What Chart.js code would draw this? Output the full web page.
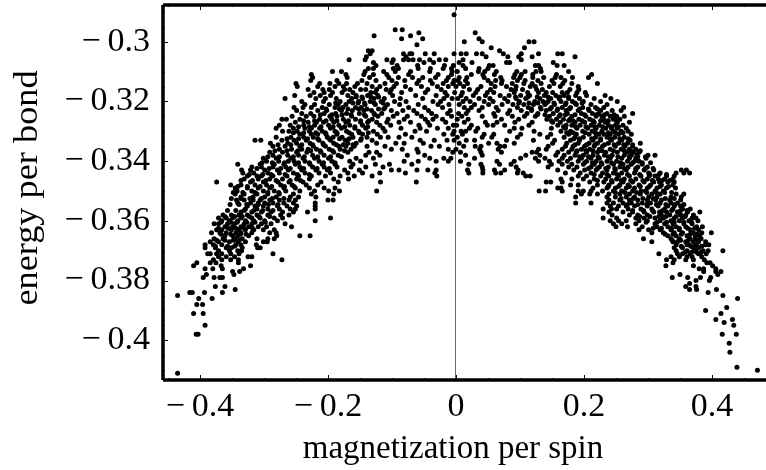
<!DOCTYPE html>
<html>
<head>
<meta charset="utf-8">
<title>energy per bond vs magnetization per spin</title>
<script src="https://cdn.jsdelivr.net/npm/chart.js@4"></script>
<style>
    html, body { margin: 0; padding: 0; background: #fff; }
    #box { width: 766px; height: 470px; position: relative; }
</style>
</head>
<body>
<div id="box"><canvas id="scatter"></canvas></div>
<script>
const xTicks = [-0.4, -0.2, 0, 0.2, 0.4];
const xTickLabels = ['\u2212\u20090.4', '\u2212\u20090.2', '0', '0.2', '0.4'];
const yTicks = [-0.3, -0.32, -0.34, -0.36, -0.38, -0.4];
const yTickLabels = ['\u2212\u20090.3', '\u2212\u20090.32', '\u2212\u20090.34', '\u2212\u20090.36', '\u2212\u20090.38', '\u2212\u20090.4'];
const xTitle = 'magnetization per spin';
const yTitle = 'energy per bond';

const energyLevels = [
    -.291, -.296, -.297, -.298, -.299, -.300, -.301, -.302, -.303, -.304,
    -.305, -.306, -.307, -.308, -.309, -.310, -.311, -.312, -.313, -.314,
    -.315, -.316, -.317, -.318, -.319, -.320, -.321, -.322, -.323, -.324,
    -.325, -.326, -.327, -.328, -.329, -.330, -.331, -.332, -.333, -.334,
    -.335, -.336, -.337, -.338, -.339, -.340, -.341, -.342, -.343, -.344,
    -.345, -.346, -.347, -.348, -.349, -.350, -.351, -.352, -.353, -.354,
    -.355, -.356, -.357, -.358, -.359, -.360, -.361, -.362, -.363, -.364,
    -.365, -.366, -.367, -.368, -.369, -.370, -.371, -.372, -.373, -.374,
    -.375, -.376, -.377, -.378, -.379, -.380, -.381, -.382, -.383, -.384,
    -.385, -.386, -.388, -.389, -.390, -.391, -.393, -.394, -.395, -.398,
    -.401, -.404, -.409, -.410, -.411
];

const magnetizationByLevel = [
    [-.003],
    [-.084, -.095],
    [.030, -.058],
    [-.128, -.071],
    [-.085, -.052, .036],
    [.041, .013, .114, .122],
    [-.061],
    [.055, .107],
    [-.131, .068, -.137],
    [-.134, -.082, -.069, -.072, -.048, -.034, -.003, .008, .016, .032, .041, .074, .102, .129, .159, .166],
    [-.140, -.078, .047, .081, .098, .119, .186],
    [-.167, -.108, -.098, -.082, -.074, -.067, -.057, -.041, -.026, -.016, -.142, .011, .102],
    [-.129, -.100, -.050, -.035, .005, .025, .079, .084, .152],
    [-.092, -.125, -.060, -.018, -.004, .052, .058, .011, .124, .129, .158, .169],
    [-.137, -.129, -.098, -.090, -.059, -.040, -.020, -.007, .036, .050, .015, .132],
    [-.193, -.179, -.142, -.113, -.095, -.071, -.041, -.006, .035, .045, .002, .063, .095, .108, .125, .133, .176],
    [-.226, -.172, -.144, -.129, -.108, -.074, -.028, -.007, .212, .024, .042, .060, .092, .102, .120, .157],
    [-.224, -.170, -.135, -.105, -.090, -.068, -.052, -.032, -.012, .005, .017, .044, .070, .090, .100, .120, .137, .155, .164, .182, .207],
    [-.227, -.186, -.147, -.125, -.100, -.080, -.058, -.040, -.015, -.003, .003, .015, .050, .062, .072, .096, .108, .128, .150, .170],
    [-.250, -.213, -.197, -.183, -.171, -.154, -.139, -.111, -.093, -.061, -.037, -.020, -.005, .006, .018, .055, .071, .088, .106, .119, .133, .153, .167, .181, .221],
    [-.248, -.216, -.189, -.176, -.158, -.131, -.119, -.097, -.079, -.054, -.029, -.012, .000, .012, .039, .061, .079, .094, .116, .124, .146, .163, .191],
    [-.231, -.208, -.198, -.174, -.166, -.149, -.141, -.124, -.109, -.101, -.071, -.044, -.023, .021, .034, .054, .086, .093, .104, .126, .135, .178, .192],
    [-.222, -.206, -.193, -.178, -.161, -.133, -.126, -.103, -.085, -.048, -.017, -.002, .010, .031, .049, .059, .091, .112, .129, .141, .151, .166, .174, .189, .202],
    [-.252, -.228, -.212, -.196, -.169, -.156, -.138, -.122, -.099, -.063, -.031, -.014, .008, .027, .046, .069, .083, .101, .115, .138, .156, .169, .187, .204, .233],
    [-.267, -.219, -.204, -.187, -.163, -.146, -.128, -.112, -.087, -.052, -.019, -.006, .003, .016, .036, .053, .076, .094, .109, .131, .148, .161, .176, .193, .216, .242],
    [-.241, -.207, -.181, -.167, -.152, -.134, -.117, -.096, -.078, -.036, -.024, .011, .022, .044, .058, .081, .099, .123, .136, .144, .164, .182, .199, .226, .252],
    [-.236, -.221, -.198, -.184, -.172, -.142, -.126, -.107, -.088, -.059, -.028, -.011, .005, .029, .051, .072, .089, .106, .121, .139, .154, .171, .188, .211, .236],
    [-.253, -.239, -.226, -.209, -.189, -.177, -.157, -.148, -.111, -.074, -.049, -.021, .013, .024, .041, .063, .096, .113, .132, .149, .166, .179, .198, .218, .231, .262],
    [-.249, -.216, -.202, -.179, -.162, -.144, -.132, -.101, -.083, -.066, -.043, -.009, .019, .036, .066, .084, .102, .118, .141, .158, .172, .191, .208, .226, .244, .258],
    [-.241, -.227, -.206, -.188, -.171, -.151, -.128, -.116, -.092, -.061, -.038, -.013, .004, .016, .059, .081, .111, .128, .152, .174, .196, .213, .223, .236, .276],
    [-.256, -.234, -.222, -.197, -.186, -.163, -.141, -.122, -.098, -.076, -.054, -.031, -.007, .009, .041, .061, .088, .107, .124, .146, .161, .181, .203, .219, .228, .241, .251, .263],
    [-.272, -.265, -.244, -.213, -.194, -.176, -.157, -.131, -.106, -.081, -.048, -.036, -.021, .002, .019, .071, .098, .142, .157, .168, .178, .192, .209, .231, .246, .256],
    [-.251, -.231, -.218, -.207, -.191, -.172, -.149, -.138, -.124, -.108, -.089, -.071, -.044, -.016, .013, .046, .064, .092, .119, .151, .163, .186, .201, .216, .233, .252, .271],
    [-.276, -.259, -.238, -.221, -.199, -.183, -.166, -.146, -.119, -.102, -.058, -.041, -.004, .001, .024, .049, .058, .076, .114, .159, .172, .181, .194, .211, .224, .238, .249, .261],
    [-.281, -.254, -.236, -.226, -.213, -.196, -.179, -.158, -.141, -.114, -.086, -.056, -.029, -.012, .021, .034, .091, .103, .149, .171, .189, .206, .219, .234, .243, .252, .266],
    [-.271, -.261, -.248, -.229, -.209, -.189, -.171, -.152, -.129, -.111, -.064, -.046, -.003, .008, .015, .031, .084, .122, .164, .179, .198, .213, .228, .246, .258, .269],
    [-.244, -.226, -.216, -.203, -.186, -.163, -.146, -.123, -.079, -.019, -.005, .010, .044, .059, .101, .131, .148, .176, .188, .208, .223, .231, .241, .254, .274],
    [-.281, -.258, -.238, -.223, -.201, -.192, -.178, -.161, -.139, -.118, -.106, -.089, -.069, .002, .041, .056, .096, .143, .169, .186, .199, .218, .236, .248, .263],
    [-.314, -.305, -.272, -.253, -.234, -.214, -.196, -.173, -.149, -.131, -.056, -.034, -.014, -.003, .016, .029, .079, .121, .154, .179, .193, .214, .226, .243, .259, .272],
    [-.290, -.263, -.249, -.228, -.208, -.191, -.169, -.156, -.124, -.094, -.081, -.051, .005, .051, .064, .091, .151, .173, .191, .208, .221, .238, .254, .268, .288],
    [-.286, -.267, -.244, -.223, -.204, -.183, -.172, -.159, -.139, -.111, -.039, -.026, .012, .039, .030, .076, .069, .144, .171, .183, .201, .216, .229, .249, .264, .276],
    [-.276, -.257, -.241, -.231, -.218, -.198, -.181, -.164, -.101, -.084, -.061, -.012, .000, .037, .066, .129, .141, .166, .181, .196, .209, .224, .241, .258, .271, .281],
    [-.291, -.271, -.249, -.233, -.211, -.191, -.169, -.136, -.124, -.059, -.005, .007, .039, .071, .119, .126, .159, .176, .188, .204, .221, .234, .252, .268, .278, .286],
    [-.286, -.263, -.246, -.224, -.206, -.184, -.141, -.119, -.076, -.049, .015, .041, .109, .131, .156, .169, .186, .199, .214, .232, .244, .263, .274, .283, .300, .311],
    [-.301, -.281, -.258, -.239, -.221, -.199, -.156, -.129, -.041, -.019, -.008, .029, .101, .124, .139, .166, .179, .196, .211, .224, .241, .259, .271, .281, .297],
    [-.296, -.277, -.262, -.253, -.236, -.214, -.194, -.166, -.149, -.081, -.059, -.031, -.012, .007, .064, .091, .129, .146, .161, .174, .191, .204, .219, .236, .251, .268, .279, .286],
    [-.341, -.306, -.284, -.269, -.251, -.228, -.209, -.189, -.161, -.126, -.104, -.069, .020, .039, .068, .086, .149, .166, .181, .199, .216, .228, .246, .261, .274, .291],
    [-.319, -.304, -.286, -.266, -.244, -.224, -.206, -.186, -.164, -.141, -.114, .041, .094, .144, .176, .189, .211, .224, .238, .256, .269, .284, .299],
    [-.335, -.321, -.299, -.279, -.262, -.241, -.219, -.201, -.174, -.151, -.101, -.089, -.061, -.044, -.031, .018, .042, .060, .076, .097, .159, .184, .201, .219, .236, .249, .266, .281, .294, .309, .352, .360],
    [-.333, -.316, -.294, -.276, -.254, -.236, -.214, -.196, -.169, -.146, -.119, -.079, -.033, .020, .042, .062, .070, .096, .105, .171, .194, .211, .229, .246, .259, .279, .301, .319, .344, .356, .365],
    [-.326, -.311, -.304, -.286, -.264, -.246, -.226, -.204, -.181, -.159, -.131, -.030, .109, .116, .191, .204, .226, .239, .254, .271, .289, .302, .311, .329, .341],
    [-.331, -.309, -.291, -.271, -.249, -.229, -.191, -.168, .164, .181, .199, .216, .234, .251, .263, .281, .299, .316, .326, .339],
    [-.374, -.321, -.301, -.278, -.261, -.239, -.211, -.184, -.118, -.062, .141, .148, .166, .209, .231, .244, .261, .276, .294, .309, .318, .331, .341],
    [-.352, -.336, -.314, -.296, -.274, -.256, -.234, -.216, .179, .191, .221, .239, .256, .269, .286, .304, .321, .339],
    [-.345, -.326, -.309, -.291, -.269, -.251, -.229, -.206, -.189, .159, .164, .214, .236, .249, .266, .279, .299, .314, .329, .343],
    [-.342, -.319, -.301, -.284, -.266, -.244, -.221, -.199, -.182, -.124, .130, .140, .166, .191, .199, .211, .229, .246, .259, .276, .289, .296, .311, .324],
    [-.345, -.331, -.311, -.294, -.276, -.254, -.226, -.191, .196, .209, .221, .239, .256, .271, .288, .306, .319, .344, .356],
    [-.336, -.317, -.299, -.281, -.259, -.246, -.219, .187, .236, .249, .266, .279, .301, .314, .336, .352],
    [-.343, -.331, -.317, -.306, -.291, -.276, -.261, -.251, -.200, -.192, .239, .256, .271, .284, .299, .312, .321, .334, .351],
    [-.341, -.321, -.309, -.299, -.286, -.269, -.254, -.220, .187, .211, .236, .246, .261, .274, .291, .304, .319, .336, .346],
    [-.326, -.314, -.301, -.279, -.264, -.249, -.220, .241, .254, .266, .279, .299, .316, .331, .341, .351],
    [-.329, -.311, -.294, -.276, -.259, -.251, -.220, .230, .243, .251, .269, .289, .306, .326, .339, .354, .366],
    [-.336, -.319, -.304, -.289, -.271, -.254, -.232, .239, .261, .276, .294, .309, .318, .329, .346, .362, .381],
    [-.364, -.351, -.339, -.326, -.311, -.294, -.274, -.261, .244, .271, .284, .299, .321, .334, .351, .359, .371],
    [-.371, -.359, -.349, -.336, -.319, -.306, -.284, -.271, -.196, .230, .251, .281, .294, .311, .324, .341, .354, .369, .375],
    [-.366, -.354, -.341, -.329, -.316, -.299, -.279, -.220, .241, .254, .266, .286, .299, .319, .336, .349, .364, .378],
    [-.378, -.371, -.357, -.346, -.331, -.319, -.304, -.289, -.267, .246, .259, .281, .311, .326, .339, .356, .369],
    [-.361, -.349, -.336, -.324, -.309, -.296, -.257, .250, .268, .291, .314, .331, .344, .359, .376, .385],
    [-.374, -.366, -.351, -.339, -.329, -.316, -.301, -.284, .286, .301, .319, .336, .349, .366, .379],
    [-.382, -.369, -.359, -.344, -.336, -.319, -.291, -.281, .306, .324, .341, .354, .371, .384, .399],
    [-.361, -.349, -.341, -.324, -.280, -.244, -.228, .331, .344, .361, .374, .381],
    [-.378, -.364, -.346, -.334, -.311, -.294, -.284, .293, .336, .349, .366, .374, .383],
    [-.384, -.371, -.354, -.341, -.329, -.301, -.295, .306, .339, .346, .359, .371, .379, .390],
    [-.392, -.379, -.366, -.344, -.336, -.312, .344, .361, .364, .376, .390, .395],
    [-.392, -.376, -.359, -.351, -.334, -.310, -.306, .341, .354, .371, .379],
    [-.371, -.354, -.341, -.335, .344, .361, .374, .386, .394, .417],
    [-.388, -.384, -.374, -.366, -.352, -.339, -.286, .317, .346, .354, .366, .379, .391],
    [-.371, -.359, -.346, -.325, -.319, .336, .349, .361, .369, .384],
    [-.379, -.366, -.352, -.340, -.272, .329, .341, .359, .371, .388],
    [-.405, -.375, -.384, -.340, .339, .392, .397],
    [-.410, -.367, -.321, .328, .371, .401],
    [-.392, -.380, -.365, -.332, .380, .387, .406],
    [-.349, -.338, .387, .414, .406],
    [-.390, -.347, .350, .409],
    [-.395, -.378, -.369, -.365, .338, .362, .398, .382],
    [.375, .396],
    [.365],
    [-.376, -.361, .359, .375],
    [-.345, .365, .376, .407],
    [-.416, -.412, -.393, -.365, .394],
    [-.435, .417],
    [-.402, -.381, .440],
    [-.405, -.396],
    [.423],
    [.390],
    [-.410, -.395, .414],
    [.406, .432],
    [.419],
    [-.392, .434],
    [-.406, -.403, .416, .438],
    [.427],
    [.428],
    [.439],
    [.471],
    [-.435]
];

// the crowded part of the two wings
const bandEnergyLevels = [
    -.3185, -.3205, -.3225, -.3245, -.3265, -.3285, -.3305, -.3325, -.3345, -.3365,
    -.3385, -.3405, -.3425, -.3445, -.3465, -.3485, -.3505, -.3525, -.3545, -.3565,
    -.3585, -.3605, -.3625, -.3645, -.3665, -.3685, -.3705
];

const bandMagnetizationByLevel = [
    [-.156, -.147, -.133, -.121, .093, .112, .127, .144, .162, .176],
    [-.188, -.161, -.153, -.143, -.128, -.114, .098, .114, .128, .141, .153, .172, .186, .197],
    [-.203, -.182, -.169, -.152, -.139, -.121, -.113, .118, .133, .147, .159, .177, .193, .207, .221],
    [-.212, -.194, -.178, -.164, -.143, -.127, .127, .139, .163, .171, .186, .201, .219, .232, .247],
    [-.238, -.221, -.203, -.186, -.168, -.149, -.136, .149, .176, .183, .197, .214, .226, .238, .251],
    [-.246, -.229, -.211, -.192, -.174, -.158, -.138, .168, .187, .203, .217, .229, .243, .254],
    [-.254, -.238, -.219, -.204, -.186, -.167, -.151, -.137, .173, .183, .202, .218, .238, .249, .261],
    [-.264, -.246, -.232, -.216, -.198, -.182, -.167, -.148, .184, .193, .212, .226, .241, .256, .269],
    [-.278, -.258, -.241, -.224, -.207, -.187, -.176, -.161, .186, .204, .217, .232, .247, .262, .276],
    [-.283, -.264, -.247, -.227, -.212, -.193, -.174, .189, .203, .214, .228, .246, .263, .273, .288],
    [-.294, -.276, -.254, -.237, -.216, -.196, -.179, .193, .207, .222, .238, .253, .271, .284, .296],
    [-.303, -.287, -.268, -.246, -.229, -.207, -.189, .201, .213, .227, .243, .257, .276, .291, .304],
    [-.311, -.292, -.274, -.259, -.238, -.217, -.198, .207, .221, .234, .248, .263, .281, .296, .308],
    [-.323, -.302, -.289, -.267, -.248, -.229, .216, .236, .252, .268, .287, .303, .317, .329],
    [-.336, -.318, -.297, -.281, -.259, -.243, .221, .243, .258, .273, .292, .307, .322, .334],
    [-.341, -.326, -.306, -.288, -.268, -.253, .238, .254, .271, .288, .302, .319, .332],
    [-.348, -.333, -.314, -.294, -.277, .249, .264, .282, .298, .313, .326, .337],
    [-.351, -.336, -.322, -.304, -.287, -.269, .258, .277, .292, .308, .327, .341],
    [-.353, -.339, -.327, -.309, -.293, -.278, .268, .284, .298, .313, .328, .342, .356],
    [-.357, -.344, -.331, -.316, -.302, -.286, .276, .293, .307, .323, .337, .351, .361],
    [-.361, -.346, -.334, -.323, -.308, -.291, .287, .303, .317, .328, .344, .358],
    [-.367, -.352, -.342, -.327, -.314, -.298, .297, .314, .329, .341, .356, .368],
    [-.371, -.356, -.344, -.331, -.318, .308, .321, .337, .349, .362, .373],
    [-.367, -.352, -.337, -.328, .327, .339, .352, .366, .377],
    [-.374, -.361, -.348, -.339, .338, .351, .363, .378],
    [-.376, -.357, -.346, .352, .367, .373, .384],
    [.358, .368, .376, .383]
];

const samples = [];
energyLevels.forEach((energy, i) => {
    magnetizationByLevel[i].forEach(m => samples.push({ x: m, y: energy }));
});
bandEnergyLevels.forEach((energy, i) => {
    bandMagnetizationByLevel[i].forEach(m => samples.push({ x: m, y: energy }));
});

// frame, inward ticks and the two axis titles
const framePlugin = {
    id: 'frame',
    afterDraw(chart) {
        const ctx = chart.ctx;
        const { left, right, top, bottom } = chart.chartArea;
        const xs = chart.scales.x;
        const ys = chart.scales.y;
        ctx.save();
        ctx.strokeStyle = '#000';
        ctx.lineWidth = 1;
        ctx.beginPath();
        for (let v = -45; v <= 45; v += 5) {
            const px = Math.round(xs.getPixelForValue(v / 100)) + 0.5;
            const len = v % 20 === 0 ? 5 : 2;
            ctx.moveTo(px, bottom); ctx.lineTo(px, bottom - len);
            ctx.moveTo(px, top); ctx.lineTo(px, top + len);
        }
        for (let v = 290; v <= 410; v += 5) {
            const py = Math.round(ys.getPixelForValue(-v / 1000)) + 0.5;
            const len = v % 20 === 0 ? 5 : 2;
            ctx.moveTo(left, py); ctx.lineTo(left + len, py);
        }
        ctx.stroke();
        ctx.lineWidth = 3.5;
        ctx.beginPath();
        ctx.moveTo(left, top); ctx.lineTo(right, top);
        ctx.moveTo(left, top); ctx.lineTo(left, bottom);
        ctx.moveTo(left, bottom); ctx.lineTo(right, bottom);
        ctx.stroke();

        ctx.fillStyle = '#000';
        ctx.font = '33px "Liberation Serif"';
        ctx.textAlign = 'center';
        ctx.textBaseline = 'alphabetic';
        ctx.fillText(xTitle, 453, 458);
        ctx.translate(37, 188);
        ctx.rotate(-Math.PI / 2);
        ctx.scale(1.1, 1);
        ctx.fillText(yTitle, 0, 0);
        ctx.restore();
    }
};

new Chart(document.getElementById('scatter').getContext('2d'), {
    type: 'scatter',
    data: {
        datasets: [{
            label: 'samples',
            data: samples,
            backgroundColor: '#000',
            borderWidth: 0,
            pointRadius: 2.5
        }]
    },
    options: {
        responsive: true,
        maintainAspectRatio: false,
        animation: false,
        layout: { autoPadding: false, padding: { top: 5, right: 0, left: 0, bottom: 0 } },
        plugins: { legend: { display: false }, tooltip: { enabled: false } },
        scales: {
            x: {
                type: 'linear',
                min: -0.4578,
                max: 0.4844,
                afterFit: s => { s.height = 90; s.paddingLeft = 0; s.paddingRight = 0; },
                afterBuildTicks: s => { s.ticks = xTicks.map(v => ({ value: v })); },
                border: { display: false },
                grid: {
                    drawTicks: false,
                    color: c => c.tick && c.tick.value === 0 ? '#666' : 'transparent',
                    lineWidth: 1
                },
                ticks: {
                    autoSkip: false,
                    maxRotation: 0,
                    padding: 7,
                    color: '#000',
                    font: { family: '"Liberation Serif"', size: 34 },
                    callback: v => xTickLabels[xTicks.indexOf(v)]
                }
            },
            y: {
                type: 'linear',
                min: -0.4133,
                max: -0.2877,
                afterFit: s => { s.width = 163; s.paddingTop = 0; s.paddingBottom = 0; },
                afterBuildTicks: s => { s.ticks = yTicks.map(v => ({ value: v })); },
                border: { display: false },
                grid: { display: false },
                ticks: {
                    autoSkip: false,
                    padding: 5,
                    color: '#000',
                    font: { family: '"Liberation Serif"', size: 34 },
                    callback: v => yTickLabels[yTicks.indexOf(v)]
                }
            }
        }
    },
    plugins: [framePlugin]
});
</script>
</body>
</html>
